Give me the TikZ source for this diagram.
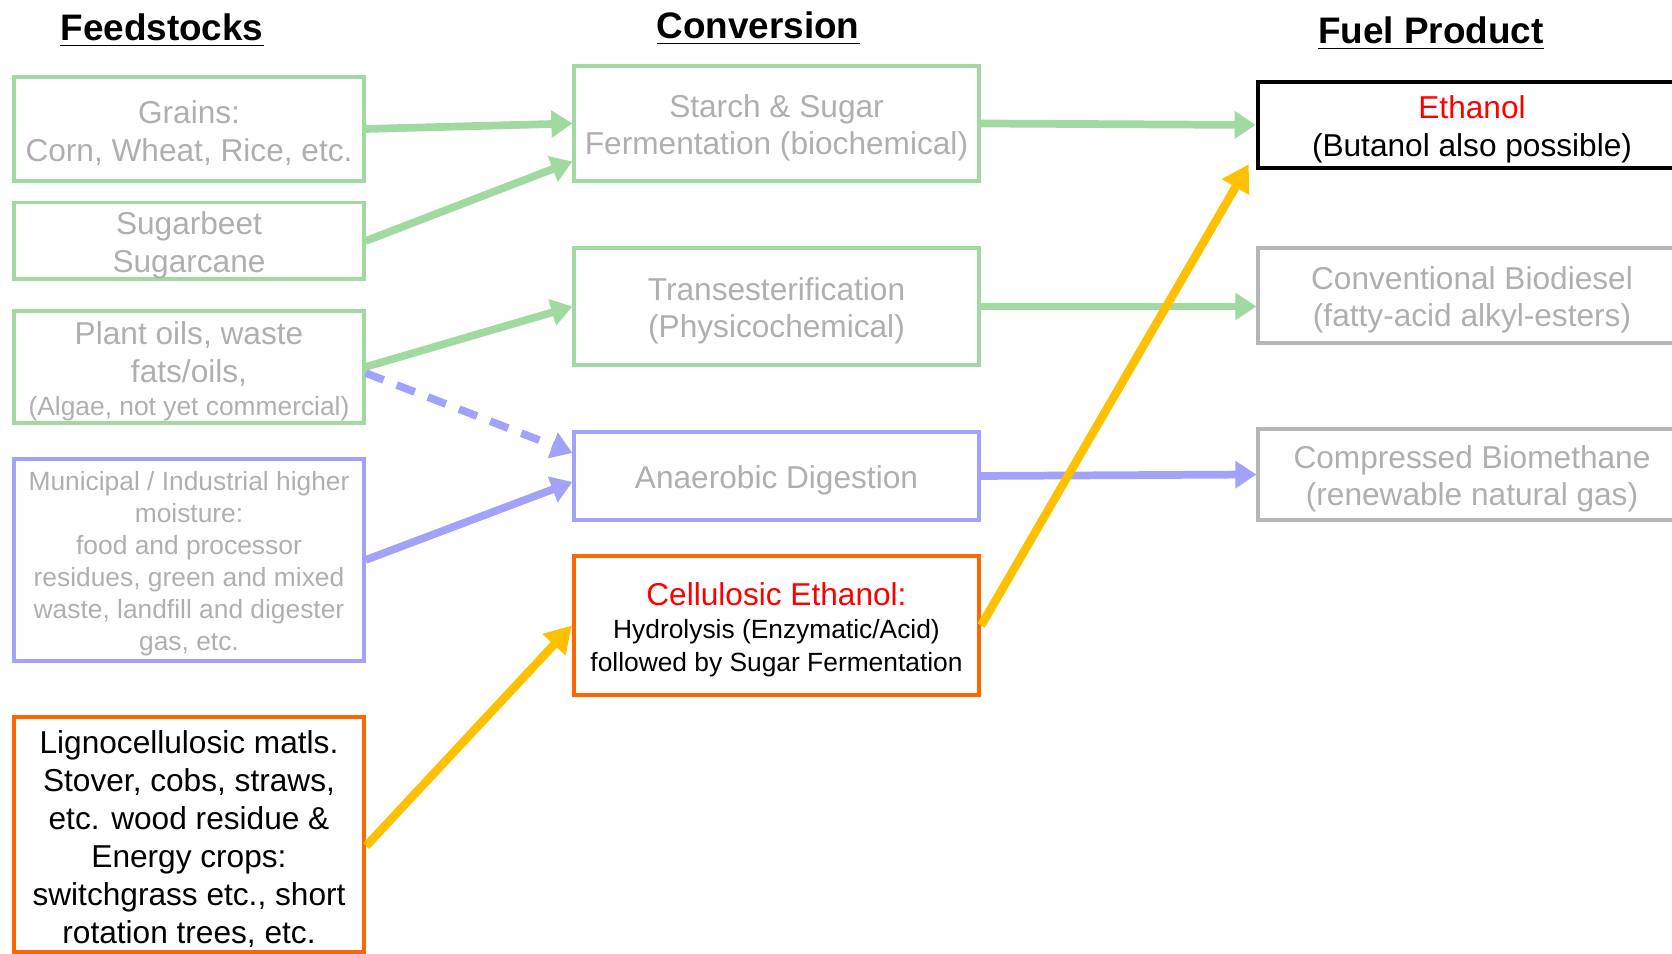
\documentclass[tikz,border=0pt]{standalone}
\usepackage{fontspec}
\setmainfont{Liberation Sans}
\usetikzlibrary{arrows.meta,calc}
\definecolor{fadetext}{RGB}{175,175,175}
\definecolor{fadegreen}{RGB}{160,218,160}
\definecolor{fadeblue}{RGB}{162,162,250}
\definecolor{fadegray}{RGB}{182,182,182}
\definecolor{lignoorange}{RGB}{255,102,0}
\definecolor{flowyellow}{RGB}{255,192,0}
% raises the first line of a box so its text sits a little low
\newcommand{\toprule}[1][9pt]{\rule{0pt}{#1}}
\begin{document}
\begin{tikzpicture}[
    box/.style={draw, line width=0.9pt, inner sep=0pt, align=center,
      font=\fontsize{9}{10.8}\selectfont},
    greenbox/.style={box, draw=fadegreen, text=fadetext},
    bluebox/.style={box, draw=fadeblue, text=fadetext},
    graybox/.style={box, draw=fadegray, text=fadetext},
    heading/.style={font=\fontsize{10.5}{12}\selectfont\bfseries},
    greenflow/.style={draw=fadegreen, line width=2.2pt, -{Triangle[length=6pt,width=7.5pt]}},
    blueflow/.style={draw=fadeblue, line width=2.2pt, -{Triangle[length=6pt,width=7.5pt]}},
    yellowflow/.style={draw=flowyellow, line width=2.4pt, -{Triangle[length=7.5pt,width=8.5pt]}}
  ]
  \useasboundingbox (0,0) rectangle (16.72,9.54);

  % Column headings
  \node [heading] (headfeed) at (1.62,9.236) {\underline{Feedstocks}};
  \node [heading] (headconv) at (7.58,9.256) {\underline{Conversion}};
  \node [heading] (headfuel) at (14.31,9.206) {\underline{Fuel Product}};

  % Feedstock boxes
  \node [greenbox, minimum width=3.50cm, minimum height=1.04cm] (grains) at (1.89,8.25)
    {\toprule Grains:\\Corn, Wheat, Rice, etc.};
  \node [greenbox, minimum width=3.50cm, minimum height=0.76cm] (sugar) at (1.89,7.13)
    {\toprule Sugarbeet\\Sugarcane};
  \node [greenbox, minimum width=3.50cm, minimum height=1.12cm] (oils) at (1.89,5.87)
    {\toprule Plant oils, waste\\fats/oils,\\[-1.2pt]{\fontsize{7.5}{9.1}\selectfont(Algae, not yet commercial)}};
  \node [bluebox, minimum width=3.50cm, minimum height=2.02cm,
    font=\fontsize{7.5}{9.1}\selectfont] (municipal) at (1.89,3.94)
    {\toprule[7.8pt]Municipal / Industrial higher\\moisture:\\food and processor\\residues, green and mixed\\waste, landfill and digester\\gas, etc.};
  \node [box, draw=lignoorange, line width=1.2pt, minimum width=3.50cm, minimum height=2.35cm] (ligno) at (1.89,1.195)
    {\toprule Lignocellulosic matls.\\Stover, cobs, straws,\\etc. wood residue \&\\Energy crops:\\switchgrass etc., short\\rotation trees, etc.};

  % Conversion boxes
  \node [greenbox, minimum width=4.05cm, minimum height=1.15cm] (starch) at (7.765,8.305)
    {\toprule Starch \& Sugar\\Fermentation (biochemical)};
  \node [greenbox, minimum width=4.05cm, minimum height=1.17cm] (trans) at (7.765,6.475)
    {\toprule Transesterification\\(Physicochemical)};
  \node [bluebox, minimum width=4.05cm, minimum height=0.88cm] (anaerobic) at (7.765,4.78)
    {\toprule Anaerobic Digestion};
  \node [box, draw=lignoorange, line width=1.2pt, minimum width=4.05cm, minimum height=1.39cm] (cellulosic) at (7.765,3.285)
    {\toprule\textcolor{red}{Cellulosic Ethanol:}\\[-1.3pt]{\fontsize{7.5}{9.1}\selectfont Hydrolysis (Enzymatic/Acid)}\\[-1.5pt]
     {\fontsize{7.5}{9.1}\selectfont followed by Sugar Fermentation}};

  % Fuel product boxes
  \node [box, draw=black, line width=1.3pt, minimum width=4.28cm, minimum height=0.86cm] (ethanol) at (14.72,8.29)
    {\toprule\textcolor{red}{Ethanol}\\(Butanol also possible)};
  \node [graybox, minimum width=4.28cm, minimum height=0.95cm] (biodiesel) at (14.72,6.585)
    {\toprule Conventional Biodiesel\\(fatty-acid alkyl-esters)};
  \node [graybox, minimum width=4.28cm, minimum height=0.91cm] (biomethane) at (14.72,4.795)
    {\toprule Compressed Biomethane\\(renewable natural gas)};

  % Feedstock to conversion
  \draw [greenflow] (grains.east) -- (starch.west);
  \draw [greenflow] (sugar.east) -- ($(starch.west)+(0,-0.38)$);
  \draw [greenflow] (oils.east) -- (trans.west);
  \draw [blueflow, dash pattern=on 5.5pt off 4pt] ($(oils.east)+(0,-0.06)$) -- ($(anaerobic.west)+(0,0.23)$);
  \draw [blueflow] (municipal.east) -- ($(anaerobic.west)+(0,-0.06)$);
  \draw [yellowflow] ($(ligno.east)+(0,-0.115)$) -- (cellulosic.west);

  % Conversion to fuel product
  \draw [greenflow] (starch.east) -- (ethanol.west);
  \draw [greenflow] (trans.east) -- (trans.east -| biodiesel.west);
  \draw [blueflow] (anaerobic.east) -- (biomethane.west);
  \draw [yellowflow] (cellulosic.east) -- ($(ethanol.south west)+(-0.07,0.06)$);
\end{tikzpicture}
\end{document}
